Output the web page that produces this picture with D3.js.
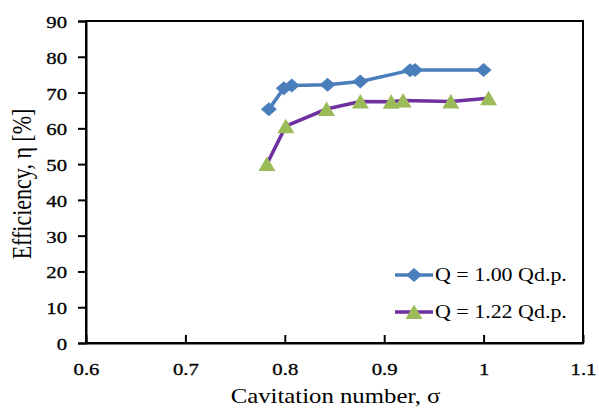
<!DOCTYPE html>
<html>
<head>
<meta charset="utf-8">
<script src="https://cdn.jsdelivr.net/npm/d3@7"></script>
<style>
  html, body { margin: 0; padding: 0; background: #fff; }
  svg { display: block; }
  text { font-family: "Liberation Serif", "Times New Roman", serif; fill: #000; }
</style>
</head>
<body>
<svg id="chart" width="599" height="408"></svg>
<script>
// Cavitation number vs. efficiency for two flow rates
const sigma100 = [0.784, 0.799, 0.807, 0.843, 0.876, 0.926, 0.931, 1.000];
const eff100   = [65.3, 71.2, 72.0, 72.2, 73.1, 76.2, 76.3, 76.3];
const sigma122 = [0.782, 0.801, 0.842, 0.876, 0.907, 0.919, 0.967, 1.005];
const eff122   = [50.0, 60.6, 65.4, 67.5, 67.4, 67.8, 67.5, 68.4];
const xTicks = [0.6, 0.7, 0.8, 0.9, 1.0, 1.1];
const yTicks = [0, 10, 20, 30, 40, 50, 60, 70, 80, 90];
const seriesNames = ["Q = 1.00 Qd.p.", "Q = 1.22 Qd.p."];

const svg = d3.select("#chart");
const plotLeft = 86, plotRight = 583, plotTop = 21, plotBottom = 343;
const sx = 1.22; // glyphs are drawn a little wide

const x = d3.scaleLinear().domain([0.6, 1.1]).range([plotLeft, plotRight]);
const y = d3.scaleLinear().domain([0, 90]).range([plotBottom, plotTop]);

// plot frame
svg.append("rect")
  .attr("x", plotLeft).attr("y", plotTop)
  .attr("width", plotRight - plotLeft).attr("height", plotBottom - plotTop)
  .attr("fill", "none").attr("stroke", "#000").attr("stroke-width", 2);

// y axis: ticks pointing out
const yAxis = svg.append("g")
  .attr("transform", `translate(${plotLeft},0)`)
  .call(d3.axisLeft(y).tickValues(yTicks).tickSize(8).tickFormat(d3.format("d")));
yAxis.select(".domain").attr("stroke-width", 2);
yAxis.selectAll(".tick line").attr("stroke-width", 2);
yAxis.selectAll(".tick text")
  .attr("x", 0).attr("dy", null).attr("y", 0)
  .attr("transform", `translate(-19,6.5) scale(${sx},1)`)
  .attr("stroke", "#000").attr("stroke-width", 0.3)
  .style("font-size", "17px").style("font-family", "Liberation Serif");

// x axis: ticks pointing into the plot
const xAxis = svg.append("g")
  .attr("transform", `translate(0,${plotBottom})`)
  .call(d3.axisBottom(x).tickValues(xTicks).tickSizeInner(-8).tickSizeOuter(0)
    .tickFormat(d => d === 1 ? "1" : d3.format(".1f")(d)));
xAxis.select(".domain").attr("stroke-width", 2);
xAxis.selectAll(".tick line").attr("stroke-width", 2);
xAxis.selectAll(".tick text")
  .attr("y", 0).attr("dy", null)
  .attr("transform", `translate(0,32) scale(${sx},1)`)
  .attr("stroke", "#000").attr("stroke-width", 0.3)
  .style("font-size", "17px").style("font-family", "Liberation Serif");

// axis titles
svg.append("text")
  .attr("transform", `translate(335.5,403) scale(1.18,1)`)
  .attr("text-anchor", "middle").style("font-size", "21px")
  .text("Cavitation number, σ");
svg.append("text")
  .attr("transform", `translate(31,184) scale(${sx},1) rotate(-90)`)
  .attr("text-anchor", "middle").style("font-size", "22px")
  .text("Efficiency, η [%]");

const blue = "#4a7ebb", purple = "#7030a0", green = "#9bbb59";
const line = d3.line().x(d => x(d[0])).y(d => y(d[1]));
const pts100 = sigma100.map((s, i) => [s, eff100[i]]);
const pts122 = sigma122.map((s, i) => [s, eff122[i]]);

// marker shapes centred on the point
const diamondPath = "M0,-7L8,0L0,7L-8,0Z";
const trianglePath = "M0,-7.5L8.5,7L-8.5,7Z";

// Q = 1.22
svg.append("path").datum(pts122).attr("d", line)
  .attr("fill", "none").attr("stroke", purple).attr("stroke-width", 3.5);
svg.append("g").selectAll("path").data(pts122).join("path")
  .attr("d", trianglePath)
  .attr("transform", d => `translate(${x(d[0])},${y(d[1])})`)
  .attr("fill", green);

// Q = 1.00
svg.append("path").datum(pts100).attr("d", line)
  .attr("fill", "none").attr("stroke", blue).attr("stroke-width", 3.5);
svg.append("g").selectAll("path").data(pts100).join("path")
  .attr("d", diamondPath)
  .attr("transform", d => `translate(${x(d[0])},${y(d[1])})`)
  .attr("fill", blue);

// legend
const legend = svg.append("g");
const rows = [
  { name: seriesNames[0], stroke: blue, fill: blue, shape: diamondPath },
  { name: seriesNames[1], stroke: purple, fill: green, shape: trianglePath }
];
rows.forEach((r, i) => {
  const cy = 275 + i * 37;
  legend.append("line")
    .attr("x1", 395).attr("x2", 433).attr("y1", cy).attr("y2", cy)
    .attr("stroke", r.stroke).attr("stroke-width", 3.5);
  legend.append("path").attr("d", r.shape)
    .attr("transform", `translate(414,${cy})`)
    .attr("fill", r.fill);
  legend.append("text")
    .attr("transform", `translate(435,${cy + 6}) scale(${sx},1)`)
    .style("font-size", "18px")
    .text(r.name);
});
</script>
</body>
</html>
